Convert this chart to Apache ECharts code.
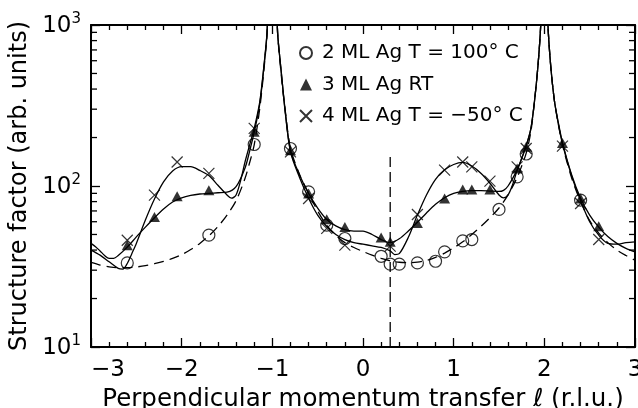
<!DOCTYPE html>
<html>
<head>
<meta charset="utf-8">
<script src="https://cdn.jsdelivr.net/npm/echarts@6/dist/echarts.min.js"></script>
<style>
  html, body { margin: 0; padding: 0; background: #fff; }
  #chart { width: 638px; height: 408px; }
</style>
</head>
<body>
<div id="chart"></div>
<script>
// measured points, [l, structure factor]
const pts2ML = [[-2.6, 33.3], [-1.7, 49.5], [-1.2, 181], [-0.8, 171], [-0.6, 92], [-0.4, 57.1], [-0.2, 47.2],
  [0.2, 36.6], [0.3, 32.7], [0.4, 32.7], [0.6, 33.3], [0.8, 34.1], [0.9, 39.0], [1.1, 45.6], [1.2, 46.5],
  [1.5, 71.5], [1.7, 114], [1.8, 158], [2.4, 81.7]];
const pts3ML = [[-2.6, 42.9], [-2.3, 64.3], [-2.05, 86.4], [-1.7, 94.2], [-1.2, 217], [-0.8, 167], [-0.6, 89.9],
  [-0.4, 62.2], [-0.2, 55.7], [0.2, 47.9], [0.3, 45.0], [0.6, 59.0], [0.9, 83.6], [1.1, 95], [1.2, 95],
  [1.4, 95], [1.7, 128.5], [1.8, 175], [2.2, 185], [2.4, 83.6], [2.6, 56.3]];
const pts4ML = [[-2.6, 46], [-2.3, 87.7], [-2.05, 141], [-1.7, 119.7], [-1.2, 228], [-0.8, 163], [-0.6, 83.6],
  [-0.4, 54.5], [-0.2, 42.9], [0.3, 42.3], [0.6, 66.5], [0.9, 125.5], [1.1, 141], [1.2, 131.5], [1.4, 107.2],
  [1.7, 131.5], [1.8, 171], [2.2, 177], [2.4, 77.9], [2.6, 46.5]];

// fitted curves
const fit2ML = [[-3.0, 33.5], [-2.9, 32.3], [-2.8, 31.5], [-2.7, 31.1], [-2.6, 31.1], [-2.5, 31.4], [-2.4, 32],
  [-2.3, 32.9], [-2.2, 34], [-2.1, 35.5], [-2.0, 37.5], [-1.9, 40.3], [-1.8, 44], [-1.7, 49], [-1.6, 56],
  [-1.5, 66], [-1.4, 81], [-1.3, 112], [-1.25, 140], [-1.2, 180], [-1.14, 300], [-1.1, 480], [-1.06, 850],
  [-1.03, 1700], [-0.97, 1700], [-0.94, 850], [-0.9, 480], [-0.86, 300], [-0.8, 172], [-0.7, 118], [-0.6, 90],
  [-0.5, 70], [-0.4, 57], [-0.3, 49.5], [-0.2, 44.5], [-0.1, 41.5], [0.0, 39.2], [0.1, 37.2], [0.2, 35.5],
  [0.3, 34.3], [0.4, 33.6], [0.5, 33.4], [0.6, 33.7], [0.7, 34.5], [0.8, 36], [0.9, 38.3], [1.0, 41.3],
  [1.1, 45], [1.2, 50], [1.3, 56], [1.4, 63.5], [1.5, 73], [1.6, 88], [1.7, 113], [1.75, 133], [1.8, 160],
  [1.85, 215], [1.89, 330], [1.93, 560], [1.96, 1000], [1.98, 2500], [2.02, 2500], [2.04, 1000], [2.07, 560],
  [2.11, 342], [2.15, 250], [2.2, 180], [2.3, 113], [2.4, 80], [2.5, 61], [2.6, 51], [2.7, 44.5],
  [2.8, 40], [2.9, 37], [3.0, 34.6]];
const fit3ML = [[-3.0, 44], [-2.95, 42], [-2.9, 39.5], [-2.85, 37], [-2.8, 35.5], [-2.75, 35.5], [-2.7, 37],
  [-2.6, 41.7], [-2.5, 48.3], [-2.4, 55.5], [-2.3, 63.5], [-2.2, 72], [-2.1, 79.5], [-2.0, 84.5], [-1.9, 87.5],
  [-1.8, 89.2], [-1.7, 90], [-1.6, 90.8], [-1.5, 91.5], [-1.4, 99], [-1.3, 130], [-1.25, 165], [-1.2, 215],
  [-1.14, 320], [-1.1, 500], [-1.06, 860], [-1.03, 1700], [-0.97, 1700], [-0.94, 860], [-0.9, 500],
  [-0.86, 300], [-0.8, 166], [-0.7, 117], [-0.6, 90], [-0.5, 73], [-0.4, 62], [-0.3, 56.5], [-0.2, 53.5],
  [-0.1, 52.5], [0.0, 52.5], [0.1, 50], [0.2, 46.5], [0.3, 44.5], [0.4, 47], [0.5, 52.5], [0.6, 59.5],
  [0.7, 68], [0.8, 77], [0.9, 84.5], [1.0, 90], [1.1, 92.5], [1.2, 93.5], [1.3, 93.5], [1.4, 93], [1.5, 92.5],
  [1.55, 94], [1.6, 100], [1.7, 126], [1.75, 148], [1.8, 178], [1.85, 225], [1.89, 330], [1.93, 560],
  [1.96, 1000], [1.98, 2500], [2.02, 2500], [2.04, 1000], [2.07, 560], [2.11, 342], [2.15, 255], [2.2, 186],
  [2.3, 118], [2.4, 84], [2.5, 66], [2.6, 55.5], [2.7, 48.5], [2.8, 44], [2.9, 41], [3.0, 39]];
const fit4ML = [[-3.0, 40], [-2.9, 37.2], [-2.8, 33.8], [-2.7, 30.8], [-2.65, 30.5], [-2.6, 33], [-2.55, 38],
  [-2.5, 44], [-2.4, 61.5], [-2.3, 83], [-2.2, 106], [-2.1, 124], [-2.0, 132], [-1.9, 132], [-1.8, 125],
  [-1.7, 116], [-1.6, 101], [-1.5, 88], [-1.45, 84], [-1.4, 88], [-1.35, 108], [-1.3, 142], [-1.25, 180],
  [-1.2, 228], [-1.14, 330], [-1.1, 510], [-1.06, 870], [-1.03, 1700], [-0.97, 1700], [-0.94, 860],
  [-0.9, 500], [-0.86, 295], [-0.8, 163], [-0.7, 113], [-0.6, 84], [-0.5, 66], [-0.4, 56], [-0.3, 50],
  [-0.2, 46.5], [-0.1, 44.5], [0.0, 43.5], [0.1, 42.5], [0.2, 41.5], [0.3, 39.5], [0.35, 37.5], [0.4, 38],
  [0.5, 48], [0.6, 66], [0.7, 88], [0.8, 110], [0.9, 126], [1.0, 136], [1.1, 140], [1.2, 133], [1.3, 120],
  [1.4, 104], [1.5, 88], [1.55, 84.5], [1.6, 88], [1.65, 102], [1.7, 125], [1.75, 148], [1.8, 178],
  [1.85, 225], [1.89, 330], [1.93, 560], [1.96, 1000], [1.98, 2500], [2.02, 2500], [2.04, 1000], [2.07, 560],
  [2.11, 342], [2.15, 250], [2.2, 183], [2.3, 116], [2.4, 81], [2.5, 60], [2.6, 49.5], [2.7, 44],
  [2.8, 43.5], [2.9, 44.5], [3.0, 45]];

const seriesNames = ['2 ML Ag T = 100° C', '3 ML Ag RT', '4 ML Ag T = −50° C'];
const markerL = 0.3;
const markerTop = 159;
const minorY = [20, 30, 40, 50, 60, 70, 80, 90, 200, 300, 400, 500, 600, 700, 800, 900];
const X_MIN = -3, X_MAX = 3, Y_MIN = 10, Y_MAX = 1000;

const FONT = 'DejaVu Sans';
const chart = echarts.init(document.getElementById('chart'), null, {renderer: 'canvas'});

const fitLine = (data, dashed) => ({
  type: 'line',
  data: data,
  showSymbol: false,
  smooth: 0.3,
  silent: true,
  z: 2,
  lineStyle: {color: '#000', width: 1.3, type: dashed ? [10, 6] : 'solid'},
});

const xAxisBase = {
  type: 'value',
  min: X_MIN,
  max: X_MAX,
  interval: 1,
  splitLine: {show: false},
  axisLine: {onZero: false, lineStyle: {color: '#000', width: 2}},
  axisTick: {inside: true, length: 9, lineStyle: {color: '#000', width: 1.3}},
  minorTick: {show: true, splitNumber: 5, length: 5, lineStyle: {color: '#000', width: 1.3}},
};
const yAxisBase = {
  type: 'log',
  logBase: 10,
  min: Y_MIN,
  max: Y_MAX,
  splitLine: {show: false},
  axisLine: {onZero: false, lineStyle: {color: '#000', width: 2}},
  axisTick: {inside: true, length: 9, lineStyle: {color: '#000', width: 1.3}},
};

chart.setOption({
  animation: false,
  backgroundColor: '#fff',
  grid: {left: 91, right: 3, top: 25, bottom: 61, containLabel: false, outerBoundsMode: 'none'},
  xAxis: [
    Object.assign({}, xAxisBase, {
      position: 'bottom',
      name: 'Perpendicular momentum transfer ℓ (r.l.u.)',
      nameLocation: 'middle',
      nameGap: 29,
      nameTextStyle: {fontFamily: FONT, fontSize: 24.5, color: '#000'},
      axisLabel: {
        fontFamily: FONT, fontSize: 23, color: '#000', margin: 12,
        alignMinLabel: 'left',
        formatter: v => String(v).replace('-', '−'),
      },
    }),
    Object.assign({}, xAxisBase, {position: 'top', axisLabel: {show: false}}),
  ],
  yAxis: [
    Object.assign({}, yAxisBase, {
      position: 'left',
      name: 'Structure factor (arb. units)',
      nameLocation: 'middle',
      nameGap: 51,
      nameTextStyle: {fontFamily: FONT, fontSize: 24, color: '#000'},
      axisLabel: {
        margin: 10,
        formatter: v => '{b|10}{s|' + Math.round(Math.log10(v)) + '}',
        rich: {
          b: {fontFamily: FONT, fontSize: 23, color: '#000', lineHeight: 26, verticalAlign: 'bottom'},
          s: {fontFamily: FONT, fontSize: 15, color: '#000', lineHeight: 26, verticalAlign: 'top', padding: [0, 0, 12, 0]},
        },
      },
    }),
    Object.assign({}, yAxisBase, {position: 'right', axisLabel: {show: false}}),
  ],
  legend: {
    orient: 'vertical',
    left: 299,
    top: 43,
    padding: 0,
    itemWidth: 12,
    itemHeight: 12,
    itemGap: 11.5,
    textStyle: {fontFamily: FONT, fontSize: 20, color: '#000', padding: [0, 0, 0, 5], lineHeight: 12},
    data: seriesNames,
  },
  series: [
    fitLine(fit2ML, true),
    fitLine(fit3ML, false),
    fitLine(fit4ML, false),
    {
      type: 'line',
      data: [[markerL, Y_MIN], [markerL, markerTop]],
      showSymbol: false,
      silent: true,
      lineStyle: {color: '#000', width: 1.3, type: [10, 5]},
    },
    {
      name: seriesNames[0],
      type: 'scatter',
      data: pts2ML,
      symbol: 'circle',
      symbolSize: 12,
      z: 4,
      itemStyle: {color: 'rgba(255,255,255,0)', borderColor: '#000', borderWidth: 1.2},
    },
    {
      name: seriesNames[1],
      type: 'scatter',
      data: pts3ML,
      symbol: 'triangle',
      symbolSize: [11, 10],
      z: 4,
      itemStyle: {color: '#000'},
    },
    {
      name: seriesNames[2],
      type: 'scatter',
      data: pts4ML,
      symbol: 'path://M0,0L10,10M10,0L0,10',
      symbolSize: 11,
      z: 4,
      itemStyle: {color: 'rgba(255,255,255,0)', borderColor: '#000', borderWidth: 1.2},
    },
    {
      type: 'custom',
      silent: true,
      clip: false,
      data: minorY.map(v => [X_MIN, v]),
      renderItem: (params, api) => {
        const v = api.value(1);
        const l = api.coord([X_MIN, v]);
        const r = api.coord([X_MAX, v]);
        const st = {stroke: '#000', lineWidth: 1.3};
        return {
          type: 'group',
          children: [
            {type: 'line', shape: {x1: l[0], y1: l[1], x2: l[0] + 6, y2: l[1]}, style: st},
            {type: 'line', shape: {x1: r[0] - 6, y1: r[1], x2: r[0], y2: r[1]}, style: st},
          ],
        };
      },
    },
  ],
});
</script>
</body>
</html>
